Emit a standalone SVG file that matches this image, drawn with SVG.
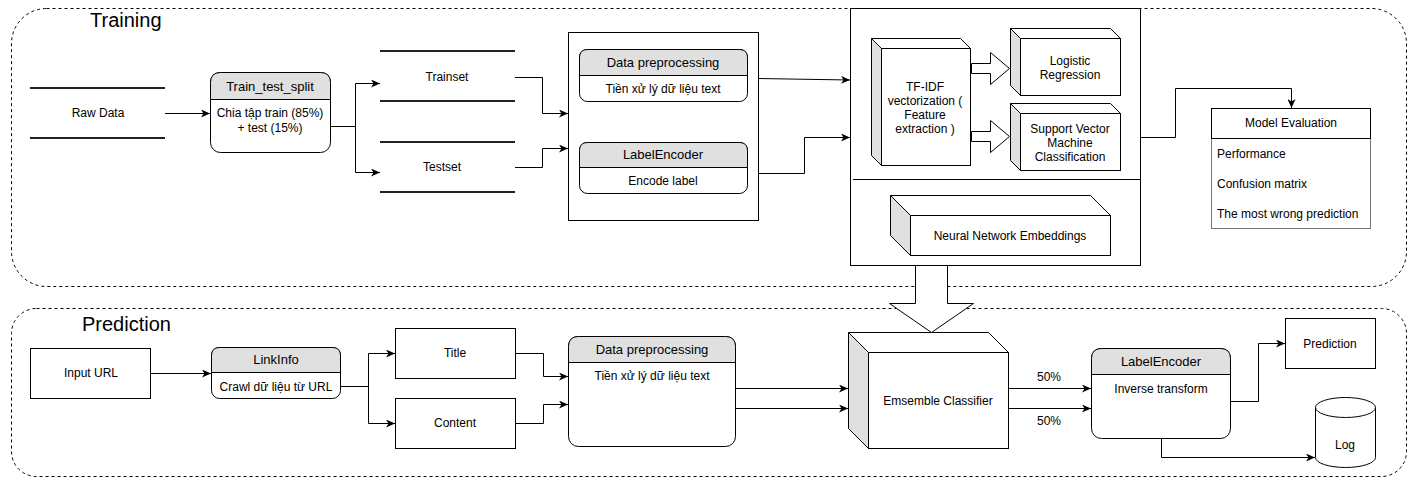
<svg xmlns="http://www.w3.org/2000/svg" width="1411" height="479" viewBox="0 0 1411 479">
<defs>
<marker id="arr" markerWidth="10" markerHeight="8" refX="9" refY="4" orient="auto" markerUnits="userSpaceOnUse"><path d="M0,0 L9,4 L0,8 L2.5,4 Z" fill="#000"/></marker>
</defs>
<style>
text{font-family:"Liberation Sans",Arial,Helvetica,sans-serif;font-size:12px;fill:#000}
.c{text-anchor:middle}
.big{font-size:20px}
.hd{font-size:13px}
.dash{fill:none;stroke:#000;stroke-width:1;stroke-dasharray:3 3}
.box{fill:#fff;stroke:#000;stroke-width:1}
.hdr{fill:#e0e0e0;stroke:#000;stroke-width:1}
.side{fill:#e0e0e0;stroke:#000;stroke-width:1}
.dl{stroke:#222;stroke-width:2}
.edge{fill:none;stroke:#000;stroke-width:1;marker-end:url(#arr)}
.ln{fill:none;stroke:#000;stroke-width:1}
</style>
<rect id="training" class="dash" x="11.5" y="8.5" width="1395" height="278" rx="35"/>
<text class="big" x="90" y="27">Training</text>
<rect id="prediction-area" class="dash" x="11.5" y="308.5" width="1395" height="168" rx="25"/>
<text class="big" x="82" y="331">Prediction</text>

<g id="rawdata"><line class="dl" x1="30" y1="88" x2="165" y2="88"/><line class="dl" x1="30" y1="138" x2="165" y2="138"/><text class="c" x="98" y="117">Raw Data</text></g>

<g id="split">
<rect class="box" x="210.5" y="72.5" width="120" height="80" rx="10"/>
<path class="hdr" d="M210.5,99.5 V82.5 Q210.5,72.5 220.5,72.5 H320.5 Q330.5,72.5 330.5,82.5 V99.5 Z"/>
<text class="c hd" x="270" y="91">Train_test_split</text>
<text class="c" x="270" y="117">Chia tập train (85%)</text>
<text class="c" x="270" y="132">+ test (15%)</text>
</g>

<g id="trainset"><line class="dl" x1="380" y1="51" x2="515" y2="51"/><line class="dl" x1="380" y1="101" x2="515" y2="101"/><text class="c" x="447" y="81">Trainset</text></g>
<g id="testset"><line class="dl" x1="380" y1="142" x2="515" y2="142"/><line class="dl" x1="380" y1="192" x2="515" y2="192"/><text class="c" x="442" y="171">Testset</text></g>

<g id="prep-box">
<rect class="box" x="568.5" y="32.5" width="190" height="188"/>
<g id="dp1">
<rect class="box" x="579.5" y="49.5" width="168" height="52" rx="8"/>
<path class="hdr" d="M579.5,75.5 V57.5 Q579.5,49.5 587.5,49.5 H739.5 Q747.5,49.5 747.5,57.5 V75.5 Z"/>
<text class="c hd" x="663" y="67">Data preprocessing</text>
<text class="c" x="663" y="93">Tiền xử lý dữ liệu text</text>
</g>
<g id="le1">
<rect class="box" x="579.5" y="142.5" width="168" height="51" rx="8"/>
<path class="hdr" d="M579.5,167.5 V150.5 Q579.5,142.5 587.5,142.5 H739.5 Q747.5,142.5 747.5,150.5 V167.5 Z"/>
<text class="c hd" x="663" y="159">LabelEncoder</text>
<text class="c" x="663" y="185">Encode label</text>
</g>
</g>

<g id="models-box">
<rect class="box" x="850.5" y="8.5" width="290" height="257"/>
<line class="ln" x1="853" y1="179.5" x2="1140" y2="179.5"/>
<g id="tfidf">
<rect class="box" x="881.5" y="48.5" width="89" height="117"/>
<polygon class="side" points="871.5,38.5 881.5,48.5 881.5,165.5 871.5,155.5"/>
<polygon class="box" points="871.5,38.5 960.5,38.5 970.5,48.5 881.5,48.5"/>
<text class="c" x="925" y="91">TF-IDF</text>
<text class="c" x="925" y="105">vectorization (</text>
<text class="c" x="925" y="119">Feature</text>
<text class="c" x="925" y="133">extraction )</text>
</g>
<g id="lr">
<rect class="box" x="1020.5" y="38.5" width="100" height="57"/>
<polygon class="side" points="1010.5,28.5 1020.5,38.5 1020.5,95.5 1010.5,85.5"/>
<polygon class="box" points="1010.5,28.5 1110.5,28.5 1120.5,38.5 1020.5,38.5"/>
<text class="c" x="1070" y="65">Logistic</text>
<text class="c" x="1070" y="79">Regression</text>
</g>
<g id="svm">
<rect class="box" x="1020.5" y="113.5" width="100" height="57"/>
<polygon class="side" points="1010.5,103.5 1020.5,113.5 1020.5,170.5 1010.5,160.5"/>
<polygon class="box" points="1010.5,103.5 1110.5,103.5 1120.5,113.5 1020.5,113.5"/>
<text class="c" x="1070" y="133">Support Vector</text>
<text class="c" x="1070" y="147">Machine</text>
<text class="c" x="1070" y="161">Classification</text>
</g>
<g id="nn">
<rect class="box" x="910.5" y="215.5" width="200" height="40"/>
<polygon class="side" points="890.5,195.5 910.5,215.5 910.5,255.5 890.5,235.5"/>
<polygon class="box" points="890.5,195.5 1090.5,195.5 1110.5,215.5 910.5,215.5"/>
<text class="c" x="1010" y="240">Neural Network Embeddings</text>
</g>
</g>

<g id="model-eval">
<rect x="1211.5" y="108.5" width="159" height="120" fill="#fff" stroke="#777"/>
<rect class="box" x="1211.5" y="108.5" width="159" height="30"/>
<text class="c" x="1291" y="127">Model Evaluation</text>
<text x="1217" y="158">Performance</text>
<text x="1217" y="188">Confusion matrix</text>
<text x="1217" y="218">The most wrong prediction</text>
</g>

<g id="input-url"><rect class="box" x="30.5" y="348.5" width="120" height="50"/><text class="c" x="91" y="377">Input URL</text></g>
<g id="linkinfo">
<rect class="box" x="211.5" y="347.5" width="129" height="51" rx="8"/>
<path class="hdr" d="M211.5,372.5 V355.5 Q211.5,347.5 219.5,347.5 H332.5 Q340.5,347.5 340.5,355.5 V372.5 Z"/>
<text class="c hd" x="276" y="364">LinkInfo</text>
<text class="c" x="276" y="391">Crawl dữ liệu từ URL</text>
</g>
<g id="title"><rect class="box" x="395.5" y="328.5" width="120" height="50"/><text class="c" x="455" y="357">Title</text></g>
<g id="content"><rect class="box" x="395.5" y="398.5" width="120" height="50"/><text class="c" x="455" y="427">Content</text></g>
<g id="dp2">
<rect class="box" x="568.5" y="336.5" width="167" height="110" rx="10"/>
<path class="hdr" d="M568.5,362.5 V346.5 Q568.5,336.5 578.5,336.5 H725.5 Q735.5,336.5 735.5,346.5 V362.5 Z"/>
<text class="c hd" x="652" y="354">Data preprocessing</text>
<text class="c" x="652" y="380">Tiền xử lý dữ liệu text</text>
</g>
<g id="ensemble">
<rect class="box" x="868.5" y="352.5" width="140" height="96"/>
<polygon class="side" points="848.5,332.5 868.5,352.5 868.5,448.5 848.5,428.5"/>
<polygon class="box" points="848.5,332.5 988.5,332.5 1008.5,352.5 868.5,352.5"/>
<text class="c" x="938" y="405">Emsemble Classifier</text>
</g>
<g id="le2">
<rect class="box" x="1091.5" y="348.5" width="139" height="90" rx="10"/>
<path class="hdr" d="M1091.5,374.5 V358.5 Q1091.5,348.5 1101.5,348.5 H1220.5 Q1230.5,348.5 1230.5,358.5 V374.5 Z"/>
<text class="c hd" x="1161" y="366">LabelEncoder</text>
<text class="c" x="1161" y="393">Inverse transform</text>
</g>
<g id="prediction-out"><rect class="box" x="1285.5" y="318.5" width="90" height="50"/><text class="c" x="1330" y="348">Prediction</text></g>
<g id="log">
<path class="box" d="M1315.5,407.5 A30,10 0 0,1 1375.5,407.5 V457.5 A30,10 0 0,1 1315.5,457.5 Z"/>
<path class="ln" d="M1315.5,407.5 A30,10 0 0,0 1375.5,407.5"/>
<text class="c" x="1345" y="449">Log</text>
</g>

<g id="connectors">
<path class="edge" d="M165,113.5 H210"/>
<path class="edge" d="M330,126.5 H355.5 V83.5 H380"/>
<path class="edge" d="M355.5,126.5 V172.5 H380"/>
<path class="edge" d="M515,77.5 H542.5 V113.5 H568"/>
<path class="edge" d="M515,167.5 H542.5 V148.5 H568"/>
<path class="edge" d="M758,78.5 L850,80"/>
<path class="edge" d="M758,173.5 H804.5 V137.5 H850"/>
<path class="edge" d="M1141,137.5 H1175.5 V88.5 H1291.5 V108"/>
<path class="edge" d="M151,373.5 H211"/>
<path class="edge" d="M340,386.5 H368.5 V353.5 H395"/>
<path class="edge" d="M368.5,386.5 V423.5 H395"/>
<path class="edge" d="M515,353.5 H543.5 V376.5 H568"/>
<path class="edge" d="M515,423.5 H543.5 V404.5 H568"/>
<path class="edge" d="M735,388.5 H848"/>
<path class="edge" d="M735,408.5 H848"/>
<path class="edge" d="M1008,388.5 H1091"/>
<path class="edge" d="M1008,408.5 H1091"/>
<text x="1037" y="381">50%</text>
<text x="1037" y="425">50%</text>
<path class="edge" d="M1230,401.5 H1258.5 V343.5 H1285"/>
<path class="edge" d="M1161.5,438 V457.5 H1315"/>
<polygon class="box" points="971.5,63.5 990.5,63.5 990.5,52.5 1009.5,68.5 990.5,84.5 990.5,73.5 971.5,73.5"/>
<polygon class="box" points="971.5,131.5 990.5,131.5 990.5,120.5 1009.5,136.5 990.5,152.5 990.5,141.5 971.5,141.5"/>
<polygon class="box" points="915.5,265.5 947.5,265.5 947.5,303.5 973.5,303.5 931.5,332.5 889.5,303.5 915.5,303.5" stroke="#555"/>
</g>
</svg>
